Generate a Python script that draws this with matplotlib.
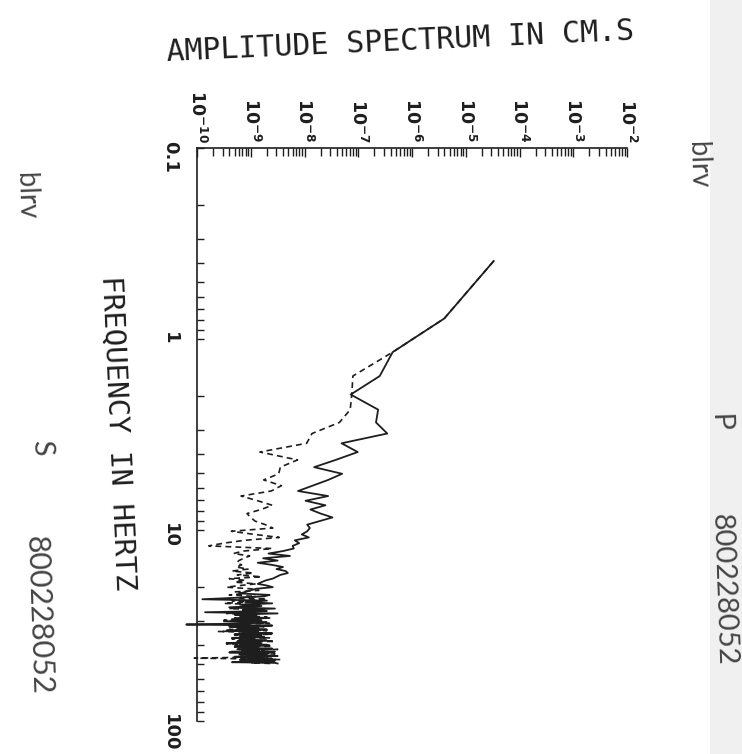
import numpy as np
import matplotlib
matplotlib.use("Agg")
import matplotlib.pyplot as plt
from matplotlib.ticker import LogLocator, FuncFormatter, NullFormatter
from matplotlib.patches import Rectangle

# ---------------- data ----------------
DF = 0.390625  # frequency step of the spectrum (Hz)
bins = np.arange(1, 129)
freq = bins * DF

# log10 of amplitude (cm.s), solid curve (P)
logamp_p = [
    -4.48, -5.40, -6.36, -6.60, -7.14, -6.63, -6.67, -6.46, -7.31, -7.01,
    -7.42, -7.82, -7.30, -7.56, -7.85, -8.12, -7.56, -7.98, -7.61, -7.89,
    -7.70, -7.48, -7.72, -7.95, -7.90, -7.95, -8.05, -7.92, -8.18, -8.10,
    -8.22, -8.20, -8.40, -8.67, -8.27, -8.77, -8.50, -8.87, -8.60, -8.40,
    -8.52, -8.35, -8.31, -8.45, -8.52, -8.59, -8.72, -8.80, -8.87, -8.70,
    -8.59, -8.90, -9.00, -9.10, -9.20, -8.65, -8.75, -9.30, -9.90, -8.70,
    -9.10, -8.60, -9.20, -8.80, -9.40, -8.55, -9.15, -8.70, -9.85, -8.50,
    -9.30, -8.90, -9.20, -8.65, -9.35, -8.80, -9.50, -8.70, -9.10, -10.20,
    -8.60, -9.40, -8.85, -9.25, -8.70, -9.45, -8.90, -9.15, -8.60, -9.30,
    -8.80, -9.20, -8.75, -9.35, -8.95, -9.10, -8.70, -9.25, -8.85, -9.45,
    -8.80, -9.20, -8.65, -9.30, -8.90, -9.15, -8.60, -9.25, -8.85, -9.05,
    -8.55, -9.40, -8.80, -9.20, -8.70, -9.10, -8.50, -9.30, -8.75, -9.05,
    -8.60, -9.20, -8.55, -8.95, -8.60, -9.35, -8.55, -8.50,
]

# log10 of amplitude (cm.s), dashed curve (S)
logamp_s = [
    -4.48, -5.40, -6.36, -7.10, -7.12, -7.15, -7.35, -7.86, -7.96, -8.83,
    -8.13, -8.45, -8.48, -8.76, -8.43, -8.62, -9.18, -8.87, -8.60, -8.81,
    -9.07, -9.00, -8.92, -8.73, -8.59, -9.36, -8.93, -8.47, -9.12, -9.50,
    -9.78, -8.60, -9.14, -9.32, -9.02, -9.13, -9.22, -9.26, -9.17, -9.27,
    -9.05, -9.35, -8.95, -9.25, -8.80, -9.40, -9.10, -9.30, -8.90, -9.20,
    -9.45, -9.00, -8.85, -9.30, -9.10, -9.40, -8.90, -9.25, -8.70, -9.35,
    -9.00, -9.50, -8.80, -9.20, -8.95, -9.40, -8.75, -9.15, -9.00, -9.45,
    -8.85, -9.20, -8.70, -9.30, -8.95, -9.50, -8.80, -9.10, -8.65, -9.35,
    -9.00, -8.75, -9.25, -8.90, -9.40, -8.70, -9.60, -8.85, -9.15, -8.60,
    -9.30, -8.95, -9.20, -8.65, -9.35, -8.90, -9.10, -8.55, -9.25, -8.80,
    -9.45, -8.70, -9.05, -8.60, -9.30, -8.85, -9.15, -8.50, -9.20, -8.75,
    -9.40, -8.65, -9.00, -8.55, -9.25, -8.80, -9.10, -8.60, -9.35, -10.05,
    -9.05, -8.45, -9.20, -8.65, -8.90, -8.55, -9.00, -8.60,
]

amp_ticks = [1e-10, 1e-9, 1e-8, 1e-7, 1e-6, 1e-5, 1e-4, 1e-3, 1e-2]
freq_ticks = [0.1, 1, 10, 100]
freq_labels = ["0.1", "1", "10", "100"]

title_text = "AMPLITUDE SPECTRUM IN CM.S"
freq_label_text = "FREQUENCY IN HERTZ"

# ---------------- figure ----------------
W, H = 742, 754
fig = plt.figure(figsize=(W / 100, H / 100), dpi=100)
fig.patch.set_facecolor("white")

# scan strip on the right
fig.patches.append(Rectangle((710 / W, 0), 32 / W, 1, transform=fig.transFigure,
                             facecolor="#f0f0f0", edgecolor="none", zorder=-5))

ax = fig.add_axes([197 / W, 1 - 721 / H, 430 / W, 573 / H])
ax.set_facecolor("none")
ax.set_xscale("log")
ax.set_yscale("log")
ax.set_xlim(amp_ticks[0], amp_ticks[-1])
ax.set_ylim(freq_ticks[-1], freq_ticks[0])

ink = "#1e1e1e"
ax.plot(10 ** np.array(logamp_s), freq, color=ink, lw=1.2,
        ls=(0, (3.5, 2.5)), clip_on=False)
ax.plot(10 ** np.array(logamp_p), freq, color=ink, lw=1.3, clip_on=False)

for s in ("bottom", "right"):
    ax.spines[s].set_visible(False)
for s in ("top", "left"):
    ax.spines[s].set_linewidth(1.2)
    ax.spines[s].set_color(ink)

# amplitude axis (top)
ax.xaxis.tick_top()
ax.xaxis.set_major_locator(LogLocator(base=10, numticks=20))
ax.xaxis.set_minor_locator(LogLocator(base=10, subs=np.arange(2, 10), numticks=200))
ax.xaxis.set_minor_formatter(NullFormatter())
ax.xaxis.set_major_formatter(FuncFormatter(
    lambda v, p: r"$\mathbf{10^{%d}}$" % int(round(np.log10(v)))))
ax.tick_params(axis="x", which="both", direction="in", top=True, bottom=False,
               labeltop=True, labelbottom=False, width=1.0, color=ink,
               labelrotation=-90, labelsize=12.5, pad=4, labelcolor=ink)
ax.tick_params(axis="x", which="major", length=6.5)
ax.tick_params(axis="x", which="minor", length=5.5)

# frequency axis (left)
ax.yaxis.set_major_locator(LogLocator(base=10, numticks=10))
ax.yaxis.set_minor_locator(LogLocator(base=10, subs=np.arange(2, 10), numticks=100))
ax.yaxis.set_minor_formatter(NullFormatter())
lab_map = dict(zip(freq_ticks, freq_labels))
ax.yaxis.set_major_formatter(FuncFormatter(
    lambda v, p: min(lab_map.items(), key=lambda kv: abs(np.log10(kv[0]) - np.log10(v)))[1]))
ax.tick_params(axis="y", which="both", direction="in", left=True, right=False,
               length=5, width=1.0, color=ink, labelrotation=-90,
               labelsize=13, pad=13, labelcolor=ink)
for t in ax.get_yticklabels():
    t.set_fontweight("bold")

# titles
fig.text(400 / W, 1 - 42 / H, title_text, ha="center", va="center",
         family="DejaVu Sans Mono", fontsize=21.5, rotation=2.6, color=ink)
fig.text(118 / W, 1 - 433 / H, freq_label_text, ha="center", va="center",
         family="DejaVu Sans Mono", fontsize=21, rotation=-87.4, color=ink)

# annotations from the plotter sheet
side = dict(ha="center", va="center", family=["Lato", "DejaVu Sans"],
            fontweight="normal", color="#444444", rotation=-88)
fig.text(26 / W, 1 - 196 / H, "blrv", fontsize=20, **side)
fig.text(41 / W, 1 - 448 / H, "S", fontsize=21, **side)
fig.text(38 / W, 1 - 615 / H, "800228052", fontsize=22, **side)
fig.text(698 / W, 1 - 165 / H, "blrv", fontsize=20, **side)
fig.text(720 / W, 1 - 422 / H, "P", fontsize=21, **side)
fig.text(723 / W, 1 - 590 / H, "800228052", fontsize=21, **side)

fig.savefig("out.png", dpi=100)
